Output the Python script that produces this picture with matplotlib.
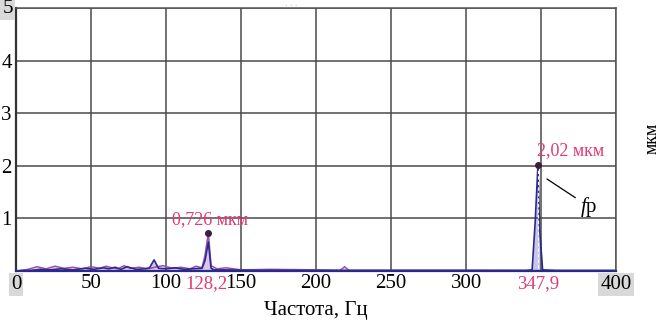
import numpy as np
import matplotlib.pyplot as plt

# spectrum, series 1 (dark blue)
freq_b = [0, 10, 16, 22, 30, 38, 46, 52, 58, 62, 66, 70, 74, 80, 86, 89, 92, 95, 100, 106, 112, 118,
          124, 126, 128.2, 130, 132, 140, 160, 180, 200, 220, 250, 300, 340, 344, 346, 347.9, 349, 351, 360, 400]
amp_b = [0.0, 0.01, 0.03, 0.02, 0.04, 0.02, 0.05, 0.03, 0.06, 0.04, 0.07, 0.03, 0.08, 0.03, 0.04, 0.06,
         0.21, 0.05, 0.04, 0.06, 0.03, 0.04, 0.05, 0.2, 0.55, 0.05, 0.02, 0.02, 0.01, 0.01, 0.01, 0.01,
         0.01, 0.01, 0.01, 0.02, 0.9, 2.02, 0.8, 0.02, 0.01, 0.01]

# spectrum, series 2 (purple)
freq_p = [0, 8, 14, 20, 26, 32, 38, 44, 50, 56, 60, 64, 68, 72, 76, 82, 88, 94, 98, 104, 110, 116, 120,
          124, 126, 128.2, 130, 134, 140, 150, 170, 200, 216, 219, 222, 250, 300, 400]
amp_p = [0.0, 0.03, 0.08, 0.04, 0.09, 0.05, 0.07, 0.04, 0.08, 0.05, 0.09, 0.06, 0.04, 0.1, 0.05, 0.07,
         0.04, 0.08, 0.1, 0.05, 0.07, 0.04, 0.09, 0.06, 0.3, 0.726, 0.1, 0.04, 0.06, 0.02, 0.03, 0.02,
         0.01, 0.08, 0.01, 0.01, 0.01, 0.0]

peaks_f = [128.2, 347.9]
peaks_a = [0.726, 2.02]
peak_txt = ["0,726 мкм", "2,02 мкм"]

xticks = [0, 50, 100, 150, 200, 250, 300, 350, 400]
xlabels = ["", "50", "100", "150", "200", "250", "300", "", ""]
yticks = [0, 1, 2, 3, 4, 5]
ylabels = ["", "1", "2", "3", "4", ""]

pink = "#e23a72"
plt.rcParams["font.family"] = "Liberation Serif"
plt.rcParams["mathtext.fontset"] = "custom"
plt.rcParams["mathtext.it"] = "Liberation Serif:italic"
plt.rcParams["mathtext.rm"] = "Liberation Serif"

fig = plt.figure(figsize=(6.62, 3.21), dpi=100)
ax = fig.add_axes([0.0242, 0.156, 0.9065, 0.819])

ax.fill_between(freq_b, amp_b, color="#c9c6ea", lw=0)
ax.fill_between(freq_p, amp_p, color="#e6c8e6", lw=0, alpha=0.7)
ax.plot(freq_p, amp_p, color="#9b4fb5", lw=1.1)
ax.plot(freq_b, amp_b, color="#2b2a8a", lw=1.2)
ax.plot([347.9, 347.9], [0.05, 1.95], color="white", lw=0.8, ls=(0, (3, 2)))
ax.plot(peaks_f, peaks_a, "o", color="#3a1f3a", ms=4, zorder=5)

ax.text(peaks_f[0] + 1, peaks_a[0] + 0.08, peak_txt[0], color=pink, fontsize=13,
        ha="center", va="bottom")
ax.text(peaks_f[1] - 0.5, peaks_a[1] + 0.1, peak_txt[1], color=pink, fontsize=13,
        ha="left", va="bottom")

ax.annotate("$f$р", xy=(348.5, 1.85), xytext=(382, 1.22), fontsize=15,
            arrowprops=dict(arrowstyle="-", color="black", lw=0.9, shrinkB=7),
            va="center", ha="center")

ax.set_xlim(0, 400)
ax.set_ylim(0, 5)
ax.set_xticks(xticks)
ax.set_xticklabels(xlabels, fontsize=15)
ax.set_yticks(yticks)
ax.set_yticklabels(ylabels, fontsize=15)
ax.tick_params(length=0, pad=2)
ax.tick_params(axis="y", pad=3)
ax.grid(True, color="#4a4a4a", lw=1.1)
for s in ax.spines.values():
    s.set_color("#555555")
    s.set_linewidth(1.1)
ax.spines["bottom"].set_color("#2b2a8a")
ax.spines["bottom"].set_linewidth(1.6)
ax.spines["left"].set_color("#333333")
ax.spines["left"].set_linewidth(1.6)

# gray boxed end labels and pink peak frequencies
box = dict(boxstyle="square,pad=0.1", fc="#d9d9d9", ec="none")
ax.text(0, -0.07, "0", fontsize=15, ha="center", va="top", bbox=box, clip_on=False)
ax.text(400, -0.07, "400", fontsize=15, ha="center", va="top", bbox=box, clip_on=False)
ax.text(-2, 5, "5", fontsize=15, ha="right", va="center", bbox=box, clip_on=False)
ax.text(127, -0.07, "128,2", fontsize=13.5, color=pink, ha="center", va="top", clip_on=False)
ax.text(347.9, -0.07, "347,9", fontsize=13.5, color=pink, ha="center", va="top", clip_on=False)

ax.set_xlabel("Частота, Гц", fontsize=15, labelpad=6)
fig.text(0.985, 0.57, "мкм", rotation=90, fontsize=13, ha="center", va="center")
fig.text(0.44, 0.995, "· · ·", fontsize=6, color="#aaaaaa", ha="center", va="top")

fig.savefig("out.png", dpi=100)
